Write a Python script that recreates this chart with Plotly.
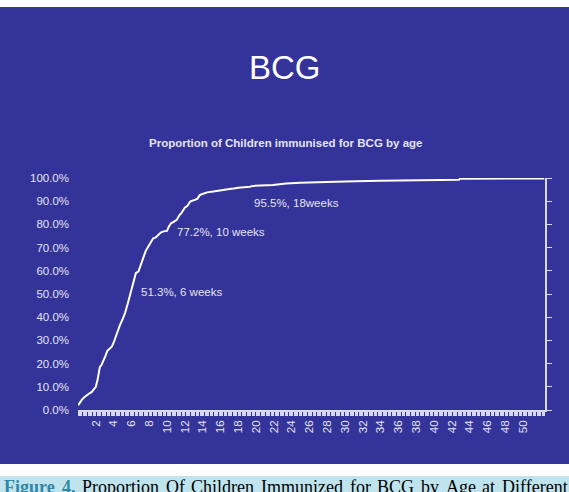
import plotly.graph_objects as go

# ---- data (weeks of age, cumulative % immunised) ----
weeks = [0.0, 0.15, 0.45, 0.7, 1.0, 1.3, 1.55, 1.8, 2.0, 2.2, 2.45, 2.65, 2.85, 3.05,
         3.3, 3.6, 3.8, 4.0, 4.35, 4.7, 5.0, 5.3, 5.6, 5.85, 6.0, 6.3, 6.5, 6.8, 7.0,
         7.35, 7.6, 7.9, 8.2, 8.45, 8.7, 9.0, 9.3, 9.6, 10.0, 10.2, 10.45, 10.7, 11.1,
         11.4, 11.6, 12.0, 12.3, 12.6, 13.1, 13.4, 13.7, 14.1, 14.5, 15.2, 16.0, 16.7,
         17.2, 17.5, 18.0, 19.3, 19.7, 21.9, 23.4, 25.0, 27.9, 30.0, 33.9, 36.0, 39.2,
         42.8, 42.9, 52.4]
pct = [2.0, 3.0, 4.5, 5.5, 6.5, 7.2, 7.8, 8.8, 10.0, 13.0, 18.5, 19.5, 21.0, 23.0,
       25.5, 26.5, 27.3, 29.0, 33.0, 36.5, 39.0, 42.0, 46.0, 49.5, 51.3, 55.0, 59.0,
       59.8, 62.0, 66.0, 68.5, 70.5, 72.5, 74.0, 74.3, 75.4, 76.5, 77.0, 77.2, 79.0,
       80.5, 81.0, 82.0, 84.0, 84.8, 87.2, 88.0, 89.8, 90.5, 91.0, 92.7, 93.4, 93.8,
       94.2, 94.8, 95.1, 95.4, 95.5, 95.8, 96.2, 96.6, 97.0, 97.6, 97.9, 98.3, 98.5,
       98.8, 98.9, 99.1, 99.2, 99.7, 99.8]

x_tick_vals = list(range(2, 52, 2))
x_tick_text = [str(v) for v in x_tick_vals]
y_tick_vals = list(range(0, 101, 10))
y_tick_text = [f"{v:.1f}%" for v in y_tick_vals]

labels = [("51.3%, 6 weeks", 6.89, 51.0),
          ("77.2%, 10 weeks", 10.9, 76.9),
          ("95.5%, 18weeks", 19.5, 89.1)]

caption_words = ["Figure", "4.", "Proportion", "Of", "Children", "Immunized", "for",
                 "BCG", "by", "Age", "at", "Different"]
# approximate word widths in em (Times metrics), used to justify the caption line
caption_em = [2.833, 0.75, 4.278, 1.055, 3.5, 4.555, 1.166, 2.056, 1.0, 1.666, 0.722, 3.665]

# ---- figure ----
W, H = 569, 492
L, R, T, B = 78, 24, 178, 82
pw, ph = W - L - R, H - T - B
BG = "#333399"
LINE = "#d8d8f0"
TXT = "#e4e4f4"
FONT = "Liberation Sans, Arial, sans-serif"
SERIF = "Liberation Serif, Times New Roman, serif"
CAP_SIZE = 18

def px2x(px):
    return (px - L) / pw

def py2y(py):
    return (H - B - py) / ph

fig = go.Figure()
fig.add_trace(go.Scatter(x=weeks, y=pct, mode="lines",
                         line=dict(color="white", width=2), hoverinfo="skip",
                         showlegend=False))
fig.add_trace(go.Scatter(x=[None], y=[None], yaxis="y2", mode="lines",
                         showlegend=False, hoverinfo="skip"))

shapes = [
    dict(type="rect", xref="paper", yref="paper", layer="below",
         x0=px2x(0), x1=px2x(569), y0=py2y(464), y1=py2y(7),
         fillcolor=BG, line=dict(width=0)),
    dict(type="rect", xref="paper", yref="paper", layer="below",
         x0=px2x(0), x1=px2x(569), y0=py2y(492), y1=py2y(476),
         fillcolor="#bfe4ee", line=dict(width=0)),
]

annotations = [
    dict(text="BCG", xref="paper", yref="paper", x=px2x(284.5), y=py2y(67),
         showarrow=False, font=dict(family=FONT, size=33, color="white"),
         xanchor="center", yanchor="middle"),
    dict(text="<b>Proportion of Children immunised for BCG by age</b>", xref="paper",
         yref="paper", x=px2x(285), y=py2y(143), showarrow=False,
         font=dict(family=FONT, size=11.5, color=TXT), xanchor="center",
         yanchor="middle"),
]

# justified caption line
cap_left, cap_right = 2, 566
widths = [e * CAP_SIZE for e in caption_em]
gap = (cap_right - cap_left - sum(widths)) / (len(caption_words) - 1)
xpos = cap_left
for i, (word, w) in enumerate(zip(caption_words, widths)):
    if i < 2:
        txt = f"<b>{word}</b>"
        col = "#2f86a8"
    else:
        txt = word
        col = "black"
    annotations.append(dict(text=txt, xref="paper", yref="paper", x=px2x(xpos),
                            y=py2y(486.5), showarrow=False, xanchor="left",
                            yanchor="middle",
                            font=dict(family=SERIF, size=CAP_SIZE, color=col)))
    xpos += w + gap

for text, xv, yv in labels:
    annotations.append(dict(text=text, x=xv, y=yv, xref="x", yref="y", showarrow=False,
                            xanchor="left", yanchor="middle",
                            font=dict(family=FONT, size=11.5, color=TXT)))

fig.update_layout(
    width=W, height=H,
    margin=dict(l=L, r=R, t=T, b=B, pad=0),
    paper_bgcolor="white",
    plot_bgcolor="rgba(0,0,0,0)",
    shapes=shapes,
    annotations=annotations,
    showlegend=False,
    xaxis=dict(range=[0, 52.47], tickvals=x_tick_vals, ticktext=x_tick_text,
               tickangle=-90, ticks="outside", ticklen=4, tickcolor=LINE, tickwidth=1,
               showline=True, linecolor=LINE, linewidth=1.5, showgrid=False,
               zeroline=False, tickfont=dict(family=FONT, size=11.5, color=TXT),
               minor=dict(dtick=1/7, tick0=0, ticks="outside", ticklen=4,
                          tickcolor=LINE, tickwidth=1, showgrid=False)),
    yaxis=dict(range=[0, 100], tickvals=y_tick_vals, ticktext=y_tick_text,
               ticks="", showline=False, showgrid=False, zeroline=False,
               ticklabelstandoff=8, tickfont=dict(family=FONT, size=11.5, color=TXT)),
    yaxis2=dict(range=[0, 100], overlaying="y", side="right", tickvals=y_tick_vals,
                showticklabels=False, ticks="outside", ticklen=5, tickcolor=LINE,
                showline=True, linecolor=LINE, linewidth=1.5, showgrid=False,
                zeroline=False),
)

fig.write_html("out.html")
